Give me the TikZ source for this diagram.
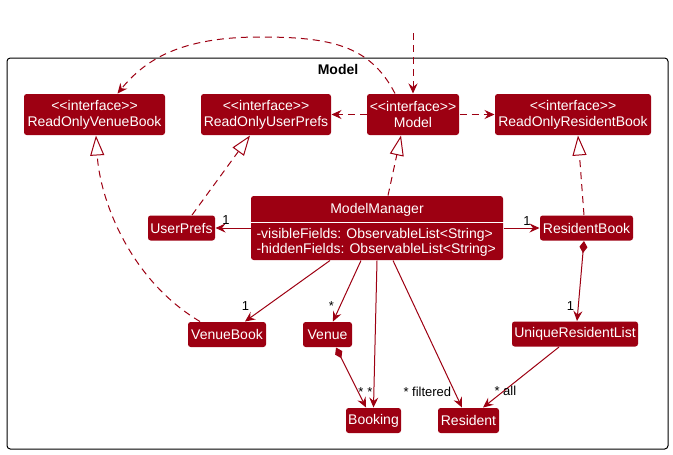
\documentclass[tikz,border=0pt]{standalone}
\usepackage{fontspec}
\setmainfont[Ligatures=TeXOff]{Liberation Sans}
\usetikzlibrary{arrows.meta}
\definecolor{mred}{HTML}{9D0012}

\begin{document}
\begin{tikzpicture}[x=0.75pt, y=-0.75pt, line width=0.75pt,
	every node/.style={font=\fontsize{10.5}{12}\selectfont},
	>={Stealth[length=7.5pt, width=6.75pt, inset=2.6pt]},
	cls/.style={fill=mred, text=white, rounded corners=2pt, align=center, inner sep=1pt, minimum height=18.75pt},
	iface/.style={cls, minimum height=30.75pt},
	dep/.style={draw=mred, dash pattern=on 5.25pt off 3.75pt, ->},
	impl/.style={draw=mred, dash pattern=on 5.25pt off 3.75pt, -{Triangle[length=15pt, width=10.5pt, fill=white]}},
	assoc/.style={draw=mred, ->},
	comp/.style={draw=mred, {Diamond[length=9pt, width=6pt]}->},
	lbl/.style={font=\fontsize{9.75}{11}\selectfont, inner sep=0pt}]
	\useasboundingbox (0,0) rectangle (673,454);
	% package frame
	\draw[rounded corners=2.5pt] (7,58) rectangle (668,449);
	\node[font=\fontsize{10.5}{12}\selectfont\bfseries, anchor=base] (pkgname) at (338,74) {Model};

	% interfaces
	\node[iface, minimum width=105.75pt] (rovb) at (94.5,114.5) {<<interface>>\\ReadOnlyVenueBook};
	\node[iface, minimum width=97.5pt] (roup) at (266,114.5) {<<interface>>\\ReadOnlyUserPrefs};
	\node[iface, minimum width=69pt] (model) at (413,114.5) {<<interface>>\\Model};
	\node[iface, minimum width=117pt] (rorb) at (573,114.5) {<<interface>>\\ReadOnlyResidentBook};

	% model manager
	\node[cls, minimum width=189pt, minimum height=48pt] (mm) at (377,228) {};
	\node[text=white, anchor=base] (mmname) at (377,213) {ModelManager};
	\coordinate (mmdiv) at (0,222);
	\draw[white] (mm.west |- mmdiv) -- (mm.east |- mmdiv);
	\node[text=white, anchor=base west, inner sep=0pt] (mmvis) at (256,238) {-visibleFields: ObservableList<String>};
	\node[text=white, anchor=base west, inner sep=0pt] (mmhid) at (256,253) {-hiddenFields: ObservableList<String>};

	% classes
	\node[cls, minimum width=50.25pt] (up) at (181.5,228) {UserPrefs};
	\node[cls, minimum width=69.75pt] (rb) at (586.5,228) {ResidentBook};
	\node[cls, minimum width=58.5pt] (vb) at (227,334.5) {VenueBook};
	\node[cls, minimum width=36.75pt] (venue) at (327.5,334.5) {Venue};
	\node[cls, minimum width=94.5pt] (url) at (575,334) {UniqueResidentList};
	\node[cls, minimum width=41.25pt] (booking) at (373.5,420.5) {Booking};
	\node[cls, minimum width=45.75pt] (resident) at (468.5,420.5) {Resident};

	% dependencies
	\coordinate (topin) at (413,33);
	\draw[dep] (topin) -- (model.north);
	\draw[dep] ([xshift=-13.5pt]model.north) .. controls (370,45) and (330,37) .. (260,37) .. controls (180,37) and (145,60) .. ([xshift=17.25pt]rovb.north);
	\draw[dep] (model.west) -- (roup.east);
	\draw[dep] (model.east) -- (rorb.west);

	% realizations
	\draw[impl] ([xshift=8.25pt]mm.north) -- ([xshift=-9pt]model.south);
	\draw[impl] ([xshift=7.9pt]up.north) -- ([xshift=-12pt]roup.south);
	\draw[impl] ([xshift=-20.25pt]vb.north) .. controls (130,280) and (100,200) .. ([xshift=1.1pt]rovb.south);
	\draw[impl] ([xshift=-1.9pt]rb.north) -- ([xshift=3.75pt]rorb.south);

	% associations
	\draw[assoc] (mm.west) -- (up.east);
	\draw[assoc] (mm.east) -- (rb.west);
	\draw[assoc] ([xshift=-35.25pt]mm.south) -- ([xshift=13.5pt]vb.north);
	\draw[assoc] ([xshift=-12pt]mm.south) -- ([xshift=4.1pt]venue.north);
	\draw[assoc] (mm.south) -- (booking.north);
	\draw[comp] ([xshift=6.4pt]venue.south) -- ([xshift=-5.6pt]booking.north);
	\draw[assoc] ([xshift=12pt]mm.south) -- ([xshift=-4.9pt]resident.north);
	\draw[comp] ([xshift=-1.9pt]rb.south) -- ([xshift=1.5pt]url.north);
	\draw[assoc] ([xshift=-12pt]url.south) -- ([xshift=10.9pt]resident.north);

	% multiplicities
	\node[lbl, anchor=base] (m1) at (226,224) {1};
	\node[lbl, anchor=base] (m2) at (527,225) {1};
	\node[lbl, anchor=base] (m3) at (245.5,310) {1};
	\node[lbl, anchor=base] (m4) at (331.5,310) {*};
	\node[lbl, anchor=base] (m5) at (361,396) {*};
	\node[lbl, anchor=base] (m6) at (370,396) {*};
	\node[lbl, anchor=base west] (m7) at (403,396) {* filtered};
	\node[lbl, anchor=base] (m8) at (570.5,310) {1};
	\node[lbl, anchor=base west] (m9) at (494,395) {* all};
\end{tikzpicture}
\end{document}
